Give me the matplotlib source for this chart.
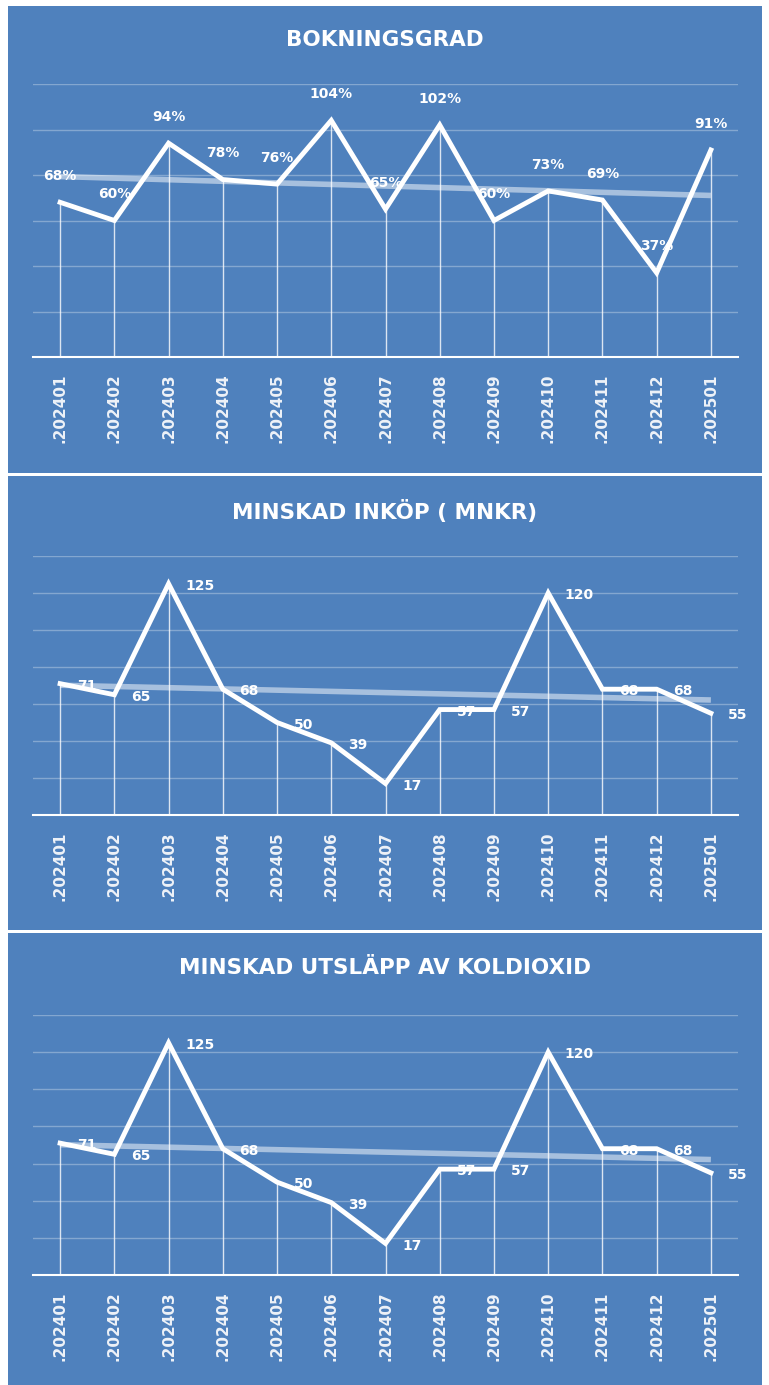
import numpy as np
import matplotlib
matplotlib.use('Agg')
import matplotlib.pyplot as plt
from matplotlib.patches import Rectangle

# data
months = ['.202401', '.202402', '.202403', '.202404', '.202405', '.202406', '.202407',
          '.202408', '.202409', '.202410', '.202411', '.202412', '.202501']
bokningsgrad = [68, 60, 94, 78, 76, 104, 65, 102, 60, 73, 69, 37, 91]
inkop = [71, 65, 125, 68, 50, 39, 17, 57, 57, 120, 68, 68, 55]
utslapp = [71, 65, 125, 68, 50, 39, 17, 57, 57, 120, 68, 68, 55]

titles = ['BOKNINGSGRAD', 'MINSKAD INKÖP ( MNKR)', 'MINSKAD UTSLÄPP AV KOLDIOXID']

BLUE = '#4f81bd'
W, H = 769, 1385

fig = plt.figure(figsize=(W / 100, H / 100), dpi=100)
fig.patch.set_facecolor('white')


def fx(px):
    return px / W


def fy(py):
    return 1 - py / H


# panel boxes (pixels: x0, y_top, x1, y_bottom)
panels = [(8, 6, 762, 473), (8, 476, 762, 930), (8, 933, 762, 1385)]
# plot areas (y_top at ymax, y_bottom at 0)
areas = [(33, 84, 738, 357), (33, 556, 738, 815), (33, 1015, 738, 1275)]
ymax = [120, 140, 140]
title_y = [40, 512, 968]
series = [bokningsgrad, inkop, utslapp]

x = np.arange(len(months))

for i in range(3):
    x0, y0, x1, y1 = panels[i]
    fig.add_artist(Rectangle((fx(x0), fy(y1)), fx(x1) - fx(x0), fy(y0) - fy(y1),
                             transform=fig.transFigure, facecolor=BLUE,
                             edgecolor='none', zorder=0))
    fig.text(fx(385), fy(title_y[i]), titles[i], color='white', fontsize=15.5,
             fontweight='bold', ha='center', va='center', family='DejaVu Sans')

    a0, at, a1, ab = areas[i]
    ax = fig.add_axes([fx(a0), fy(ab), fx(a1) - fx(a0), fy(at) - fy(ab)])
    ax.set_facecolor('none')
    vals = np.array(series[i], dtype=float)

    ax.set_xlim(-0.5, len(months) - 0.5)
    ax.set_ylim(0, ymax[i])
    ax.set_yticks(np.arange(20, ymax[i] + 1, 20))
    ax.yaxis.grid(True, color='white', alpha=0.3, lw=1)
    ax.set_axisbelow(True)
    ax.tick_params(axis='y', length=0, labelleft=False)
    ax.set_xticks(x)
    ax.set_xticklabels(months, rotation=90, color='#eef2f8', fontsize=11,
                       fontweight='bold', family='DejaVu Sans')
    ax.tick_params(axis='x', length=0, pad=12)
    for s in ['top', 'left', 'right']:
        ax.spines[s].set_visible(False)
    ax.spines['bottom'].set_color('white')
    ax.spines['bottom'].set_linewidth(1.5)

    # drop lines
    ax.vlines(x, 0, vals, color='white', lw=1, alpha=0.8, zorder=2)

    # labels
    for xi, v in zip(x, vals):
        if i == 0:
            ax.annotate(f'{int(v)}%', (xi, v), xytext=(0, 19), textcoords='offset points',
                        ha='center', va='center', color='white', fontsize=10,
                        fontweight='bold', zorder=2, annotation_clip=False)
        else:
            ax.annotate(f'{int(v)}', (xi, v), xytext=(12, -1.5), textcoords='offset points',
                        ha='left', va='center', color='white', fontsize=10,
                        fontweight='bold', zorder=2, annotation_clip=False)

    # trend line
    k, m = np.polyfit(x, vals, 1)
    ax.plot(x, k * x + m, color='white', lw=4, alpha=0.5, zorder=3,
            solid_capstyle='butt')

    ax.plot(x, vals, color='white', lw=3.5, zorder=4, solid_joinstyle='miter')

fig.savefig('out.png', dpi=100)
